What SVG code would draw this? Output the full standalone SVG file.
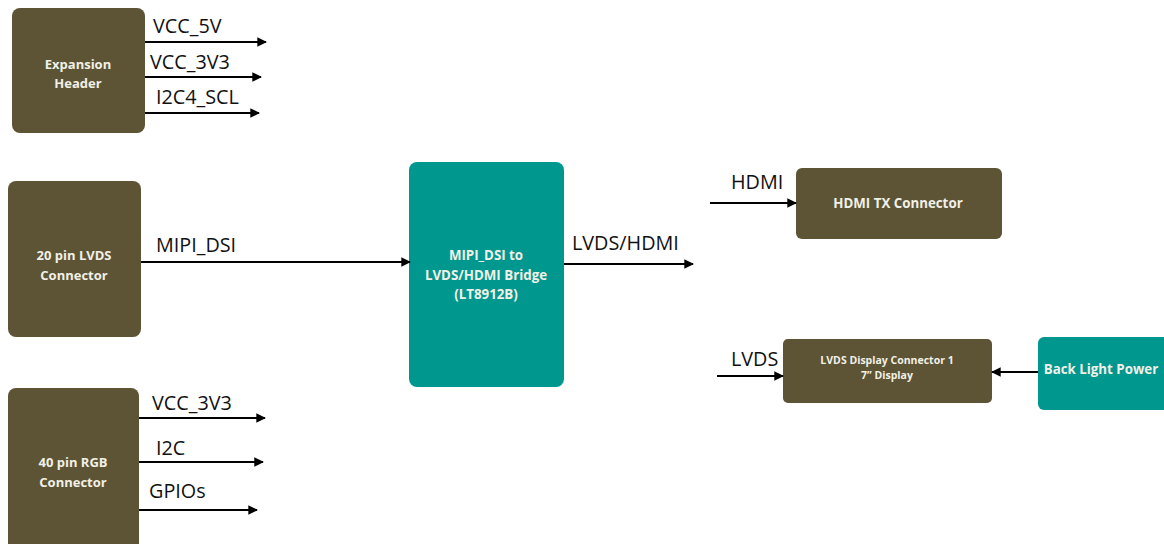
<svg xmlns="http://www.w3.org/2000/svg" width="1164" height="544" viewBox="0 0 1164 544">
<style>
.brown{fill:#5c5435}
.teal{fill:#00978f}
.bt{font-family:"Open Sans","Liberation Sans",sans-serif;font-weight:bold;fill:#f2f0e6;text-anchor:middle}
.lbl{font-family:"Open Sans","Liberation Sans",sans-serif;font-size:19.8px;fill:#111}
.ln{stroke:#000;stroke-width:2.2;fill:none;marker-end:url(#ah)}
</style>
<defs>
<marker id="ah" viewBox="0 0 10 10" refX="9" refY="5" markerWidth="4.4" markerHeight="4.4" orient="auto" markerUnits="strokeWidth">
<path d="M0,0 L10,5 L0,10 z" fill="#000"/>
</marker>
</defs>
<rect width="1164" height="544" fill="#fff"/>
<g id="expansion-header">
<rect class="brown" x="12" y="8" width="133" height="125" rx="8"/>
<text class="bt" font-size="13" x="78" y="69">Expansion</text>
<text class="bt" font-size="13" x="78" y="88">Header</text>
</g>
<g id="lvds20">
<rect class="brown" x="8" y="181" width="133" height="156" rx="8"/>
<text class="bt" font-size="13" x="74" y="260">20 pin LVDS</text>
<text class="bt" font-size="13" x="74" y="280">Connector</text>
</g>
<g id="rgb40">
<rect class="brown" x="8" y="388" width="131" height="170" rx="8"/>
<text class="bt" font-size="13" x="73" y="467">40 pin RGB</text>
<text class="bt" font-size="13" x="73" y="487">Connector</text>
</g>
<g id="bridge">
<rect class="teal" x="409" y="162" width="155" height="225" rx="8"/>
<text class="bt" font-size="13.3" x="486" y="260">MIPI_DSI to</text>
<text class="bt" font-size="13.3" x="486" y="280">LVDS/HDMI Bridge</text>
<text class="bt" font-size="13.3" x="486" y="299">(LT8912B)</text>
</g>
<g id="hdmi-tx">
<rect class="brown" x="796" y="168" width="206" height="71" rx="6"/>
<text class="bt" font-size="13.3" x="898" y="208">HDMI TX Connector</text>
</g>
<g id="lvds-display">
<rect class="brown" x="783" y="339" width="209" height="64" rx="5"/>
<text class="bt" font-size="10.5" x="887" y="364">LVDS Display Connector 1</text>
<text class="bt" font-size="10.5" x="887" y="379">7” Display</text>
</g>
<g id="backlight">
<rect class="teal" x="1038" y="337" width="134" height="73" rx="6"/>
<text class="bt" font-size="13.3" x="1101" y="374">Back Light Power</text>
</g>
<g id="connectors">
<line class="ln" x1="145" y1="42" x2="266" y2="42"/>
<line class="ln" x1="145" y1="77" x2="261" y2="77"/>
<line class="ln" x1="145" y1="113" x2="259" y2="113"/>
<line class="ln" x1="141" y1="262" x2="410" y2="262"/>
<line class="ln" x1="139" y1="418" x2="265" y2="418"/>
<line class="ln" x1="139" y1="462" x2="263" y2="462"/>
<line class="ln" x1="139" y1="510" x2="257" y2="510"/>
<line class="ln" x1="564" y1="264" x2="693" y2="264"/>
<line class="ln" x1="710" y1="203" x2="796" y2="203"/>
<line class="ln" x1="717" y1="376" x2="783" y2="376"/>
<line class="ln" x1="1038" y1="372" x2="992" y2="372"/>
<text class="lbl" x="153" y="33">VCC_5V</text>
<text class="lbl" x="150" y="69">VCC_3V3</text>
<text class="lbl" x="156" y="104">I2C4_SCL</text>
<text class="lbl" x="156" y="252">MIPI_DSI</text>
<text class="lbl" x="152" y="410">VCC_3V3</text>
<text class="lbl" x="156" y="455">I2C</text>
<text class="lbl" x="149" y="498">GPIOs</text>
<text class="lbl" x="572" y="250">LVDS/HDMI</text>
<text class="lbl" x="731" y="189">HDMI</text>
<text class="lbl" x="731" y="366">LVDS</text>
</g>
</svg>
